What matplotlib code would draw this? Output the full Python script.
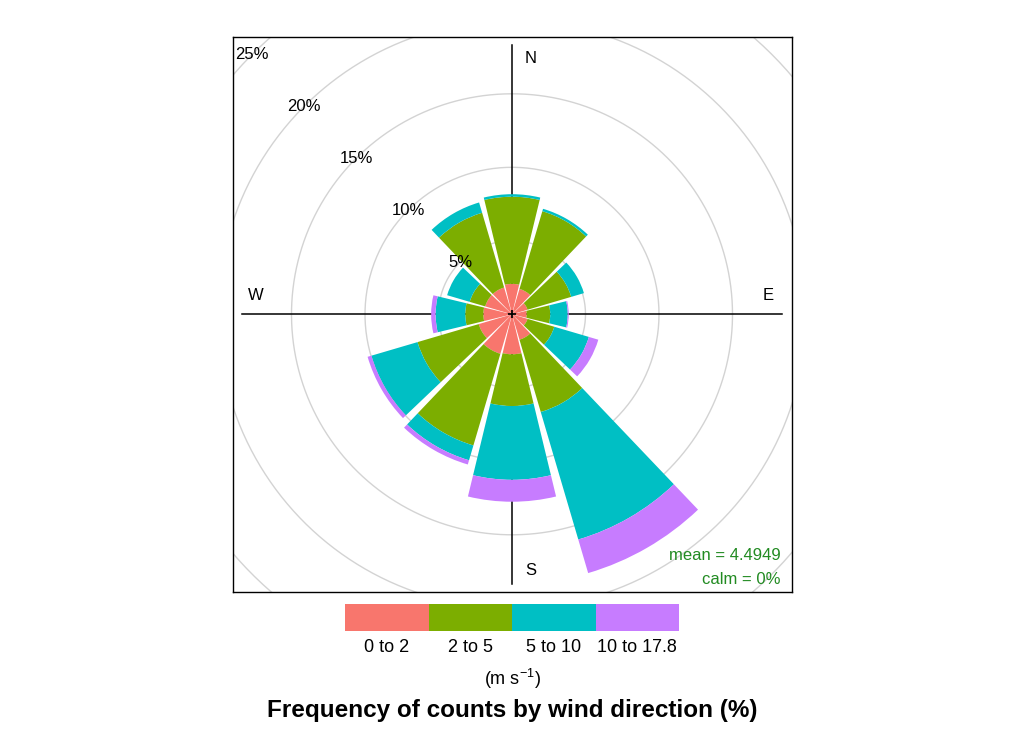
import numpy as np
import matplotlib
matplotlib.use('agg')
from matplotlib import pyplot as plt
from matplotlib.patches import Wedge, Rectangle

font = {
    'family' : 'sans-serif',
    'sans-serif' : ['Liberation Sans', 'DejaVu Sans'],
    'size'   : 12
}
matplotlib.rc('font', **font)
matplotlib.rcParams['mathtext.fontset'] = 'custom'
matplotlib.rcParams['mathtext.rm'] = 'Liberation Sans'

# wind direction sectors (degrees clockwise from north)
directions = [0, 30, 60, 90, 120, 150, 180, 210, 240, 270, 300, 330]
speed_bins = ['0 to 2', '2 to 5', '5 to 10', '10 to 17.8']
bin_colours = ['#F8766D', '#7CAE00', '#00BFC4', '#C77CFF']

# frequency (%) of each speed bin per direction
freq_0_2 = [2.07, 1.80, 1.10, 1.00, 1.10, 1.80, 2.72, 2.80, 2.36, 1.95, 1.90, 1.90]
freq_2_5 = [5.93, 5.51, 3.10, 1.60, 1.90, 5.13, 3.52, 6.50, 4.34, 1.23, 1.10, 5.30]
freq_5_10 = [0.17, 0.17, 0.90, 1.19, 2.45, 9.04, 5.02, 1.05, 3.27, 2.02, 1.60, 0.73]
freq_10_17 = [0.00, 0.00, 0.00, 0.07, 0.67, 2.38, 1.49, 0.30, 0.27, 0.30, 0.00, 0.00]

ring_levels = [5, 10, 15, 20, 25]
mean_speed = 4.4949
calm_pct = 0

(fig, ax) = plt.subplots(figsize=(10.24, 7.31), dpi=100)

# panel placed in pixels, centre of rose at (512, 314.3), 14.7 px per %
px_per = 14.7
cx, cy = 512.0, 314.3
left, right, top, bottom = 233, 792, 37, 592
ax.set_position([left/1024, (731-bottom)/731, (right-left)/1024, (bottom-top)/731])
ax.set_xlim((left-cx)/px_per, (right-cx)/px_per)
ax.set_ylim((cy-bottom)/px_per, (cy-top)/px_per)
ax.set_xticks([])
ax.set_yticks([])
for sp in ax.spines.values():
    sp.set_linewidth(1.0)
    sp.set_color('black')

# grid circles
t = np.linspace(0, 2*np.pi, 400)
for r in ring_levels:
    ax.plot(r*np.cos(t), r*np.sin(t), color='#D3D3D3', lw=1.0, zorder=1)

stack = np.array([freq_0_2, freq_2_5, freq_5_10, freq_10_17])
cum = np.cumsum(stack, axis=0)
mymax = cum[-1].max()

# axis lines
ax.plot([0, 0], [-mymax, mymax], color='black', lw=1.1, zorder=2)
ax.plot([-mymax, mymax], [0, 0], color='black', lw=1.1, zorder=2)

# sectors
half = 13.6
for j, d in enumerate(directions):
    inner = 0.0
    for k in range(len(speed_bins)):
        outer = cum[k, j]
        if outer - inner > 0:
            w = Wedge((0, 0), outer, 90-d-half, 90-d+half, width=outer-inner,
                      facecolor=bin_colours[k], edgecolor='none', zorder=3)
            ax.add_patch(w)
        inner = outer

ax.plot([0], [0], marker='+', color='black', ms=6, mew=1.2, zorder=5)

# compass labels
off = 0.07*mymax
rr = 0.95*mymax
ax.text(off, rr, 'N', ha='center', va='center', zorder=6)
ax.text(off, -rr, 'S', ha='center', va='center', zorder=6)
ax.text(rr, off, 'E', ha='center', va='center', zorder=6)
ax.text(-rr, off, 'W', ha='center', va='center', zorder=6)

# ring labels along 315 deg
a = np.deg2rad(315)
for r in ring_levels:
    ax.text(r*np.sin(a), r*np.cos(a), '%d%%' % r, ha='center', va='center',
            zorder=6, clip_on=True)

ax.text(781/1024, (731-555.5)/731, 'mean = %s' % mean_speed, color='forestgreen',
        ha='right', va='center', transform=fig.transFigure)
ax.text(781/1024, (731-579)/731, 'calm = %d%%' % calm_pct, color='forestgreen',
        ha='right', va='center', transform=fig.transFigure)

# key
key_left, key_right = 345, 679
seg = (key_right - key_left) / len(speed_bins)
for k, lab in enumerate(speed_bins):
    x0 = key_left + k*seg
    fig.patches.append(Rectangle((x0/1024, (731-631)/731), seg/1024, 27/731,
                                 transform=fig.transFigure, facecolor=bin_colours[k],
                                 edgecolor='none'))
    fig.text((x0 + seg/2)/1024, (731-648)/731, lab, ha='center', va='center', fontsize=13)
fig.text(512/1024, (731-679)/731, r'$\mathregular{(m\ s^{-1})}$', ha='center', va='center', fontsize=13)

fig.text(512/1024, (731-711)/731, 'Frequency of counts by wind direction (%)',
         ha='center', va='center', fontsize=17.5, fontweight='bold')

plt.savefig('out.png', dpi=100)
plt.close()
